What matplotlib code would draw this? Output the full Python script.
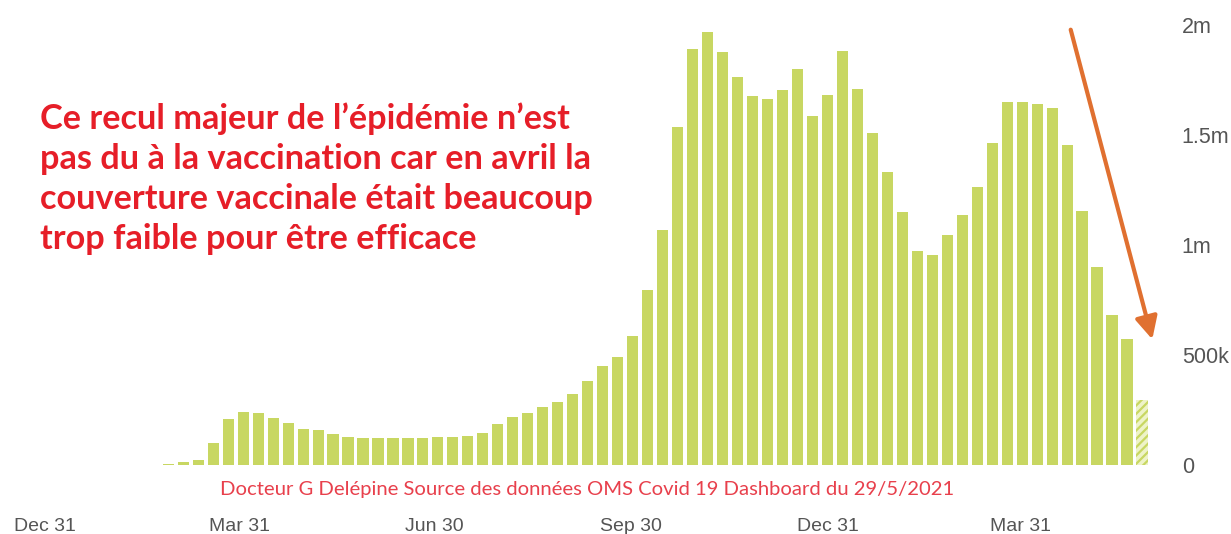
import datetime as dt
import matplotlib
matplotlib.use("Agg")
import matplotlib.pyplot as plt
import matplotlib.dates as mdates
from matplotlib.ticker import FixedLocator, FixedFormatter

# ---- data (weekly new cases, WHO European region) ----
first_week = dt.date(2020, 2, 24)
weekly_cases = [
    3000, 12000, 25000, 100000, 209000, 241000, 236000, 214000, 191000, 164000,
    159000, 141000, 127000, 123000, 123000, 123000, 125000, 125000, 127000, 127000,
    132000, 145000, 186000, 218000, 236000, 264000, 286000, 323000, 382000, 450000,
    491000, 586000, 795000, 1068000, 1536000, 1891000, 1968000, 1877000, 1764000, 1677000,
    1664000, 1705000, 1800000, 1586000, 1682000, 1882000, 1709000, 1509000, 1332000, 1150000,
    973000, 955000, 1045000, 1136000, 1264000, 1464000, 1650000, 1650000, 1641000, 1623000,
    1455000, 1155000, 900000, 682000, 573000, 295000,
]
week_starts = [first_week + dt.timedelta(weeks=i) for i in range(len(weekly_cases))]
partial_last_week = True

x_tick_dates = [dt.date(2019, 12, 31), dt.date(2020, 3, 31), dt.date(2020, 6, 30),
                dt.date(2020, 9, 30), dt.date(2020, 12, 31), dt.date(2021, 3, 31)]
x_tick_labels = ["Dec 31", "Mar 31", "Jun 30", "Sep 30", "Dec 31", "Mar 31"]
y_ticks = [0, 500000, 1000000, 1500000, 2000000]
y_tick_labels = ["0", "500k", "1m", "1.5m", "2m"]

note_text = ("Ce recul majeur de l’épidémie n’est\n"
             "pas du à la vaccination car en avril la\n"
             "couverture vaccinale était beaucoup\n"
             "trop faible pour être efficace")
source_text = "Docteur G Delépine Source des données OMS Covid 19 Dashboard du 29/5/2021"

# ---- layout ----
W, H, DPI = 1231, 534, 100
fig = plt.figure(figsize=(W / DPI, H / DPI), dpi=DPI)
fig.patch.set_facecolor("white")

ax_right_px = 1170
ax_bottom_px = 500
ax = fig.add_axes([0, 1 - ax_bottom_px / H, ax_right_px / W, ax_bottom_px / H])

px_per_day = 2.14
ref_px = 45
x0 = mdates.date2num(dt.date(2019, 12, 31)) - ref_px / px_per_day
x1 = x0 + ax_right_px / px_per_day
ax.set_xlim(x0, x1)

zero_px = 465
px_per_unit = 220 / 1e6
ax.set_ylim(-(ax_bottom_px - zero_px) / px_per_unit, zero_px / px_per_unit)

bar_color = "#c8d762"
xs = [mdates.date2num(d) + 2.6 for d in week_starts]
n_full = len(weekly_cases) - (1 if partial_last_week else 0)
ax.bar(xs[:n_full], weekly_cases[:n_full], width=5.2, color=bar_color, linewidth=0)
if partial_last_week:
    plt.rcParams["hatch.linewidth"] = 1.6
    ax.bar(xs[n_full:], weekly_cases[n_full:], width=5.2, facecolor="#eef3c8",
           edgecolor=bar_color, hatch="////", linewidth=0)

for s in ax.spines.values():
    s.set_visible(False)

ax.xaxis.set_major_locator(FixedLocator([mdates.date2num(d) for d in x_tick_dates]))
ax.xaxis.set_major_formatter(FixedFormatter(x_tick_labels))
ax.tick_params(axis="x", length=0, pad=13, labelsize=14, labelcolor="#555555")

ax.yaxis.tick_right()
ax.yaxis.set_major_locator(FixedLocator(y_ticks))
ax.yaxis.set_major_formatter(FixedFormatter(y_tick_labels))
ax.tick_params(axis="y", length=0, pad=8.5, labelsize=15.5, labelcolor="#555555")
for lab in ax.get_xticklabels() + ax.get_yticklabels():
    lab.set_family(["Liberation Sans", "DejaVu Sans"])

# annotation text
fig.text(40 / W, 1 - 102 / H, note_text, color="#e61e28", fontsize=24.7,
         fontweight="bold", family=["Lato", "DejaVu Sans"], va="top", ha="left",
         linespacing=1.31)
fig.text(220 / W, 1 - 490 / H, source_text, color="#e8404c", fontsize=14.6,
         family=["Lato", "DejaVu Sans"], va="center", ha="left")

# arrow
fig.add_artist(matplotlib.patches.FancyArrowPatch(
    (1070 / W, 1 - 27 / H), (1153 / W, 1 - 342 / H), transform=fig.transFigure,
    arrowstyle="-|>,head_length=9,head_width=4.5", color="#e07030", linewidth=3,
    mutation_scale=1.5))

fig.savefig("out.png", dpi=DPI, facecolor="white")
